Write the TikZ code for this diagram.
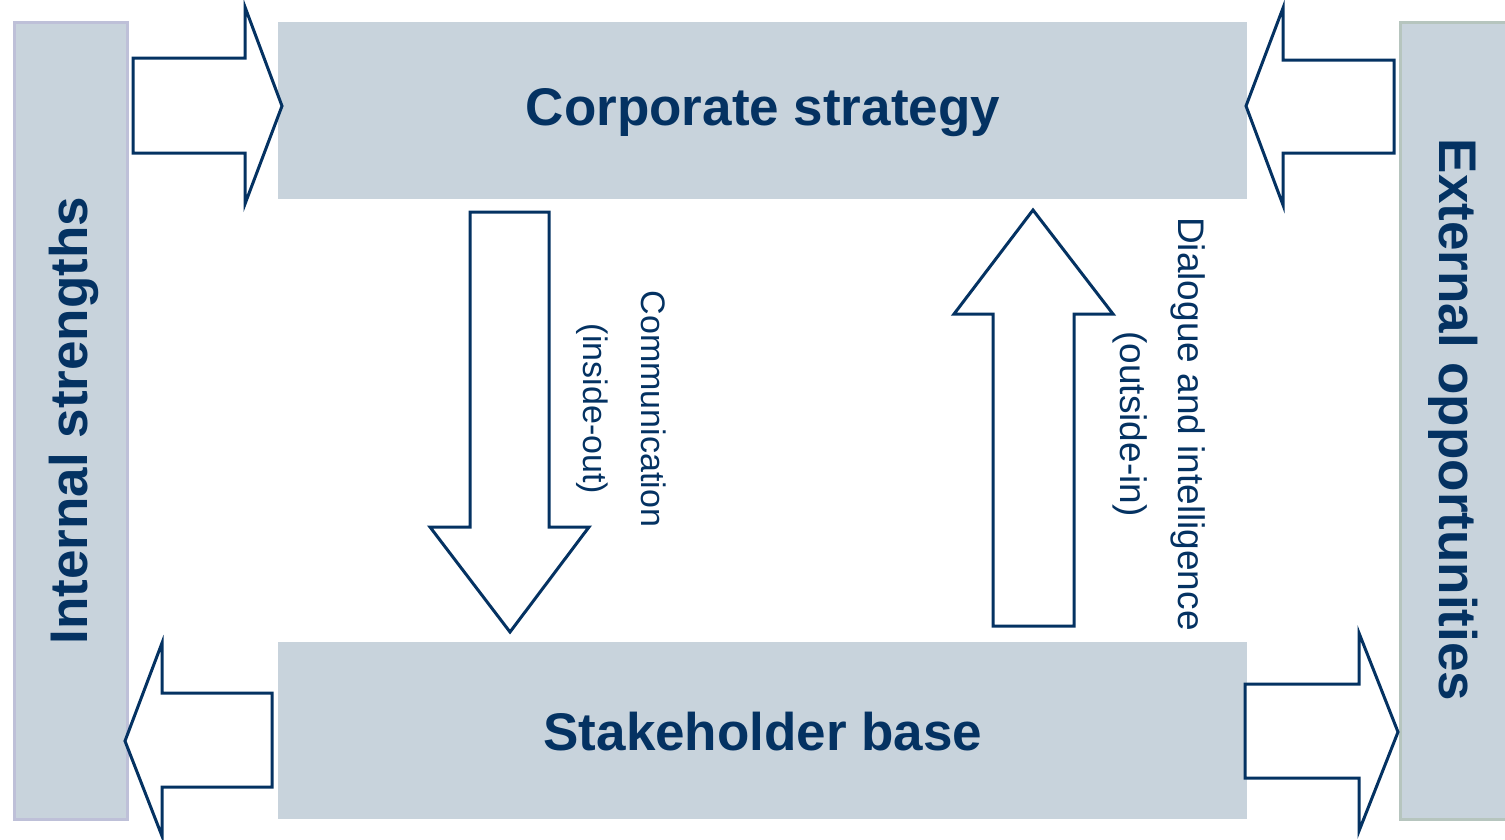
\documentclass[tikz,border=0pt]{standalone}
\usepackage{fontspec}
\setmainfont{Liberation Sans}
\usepackage{xcolor}
\usepackage{tikz}

\definecolor{navy}{RGB}{4,50,98}
\definecolor{boxfill}{RGB}{200,211,220}
\definecolor{leftedge}{RGB}{190,192,216}
\definecolor{rightedge}{RGB}{182,197,190}

\tikzset{
  box/.style={fill=boxfill, inner sep=0pt, text=navy,
    font=\fontsize{53}{60}\selectfont\bfseries},
  bar/.style={box, line width=3pt},
  blockarrow/.style={draw=navy, fill=white, line width=3pt, line join=miter},
  note/.style={text=navy, align=center, inner sep=0pt,
    font=\fontsize{34}{58}\selectfont}
}

\begin{document}
\begin{tikzpicture}[x=1pt, y=-1pt]
    \useasboundingbox (0,0) rectangle (1505,839);
    \clip (0,0) rectangle (1505,839);

    % side bars and boxes
    \node[bar, draw=leftedge, minimum width=113pt, minimum height=797pt] (inner) at (70.5,420.5) {};
    \node[bar, draw=rightedge, minimum width=113pt, minimum height=797pt, anchor=west] (outer) at (1399,420.5) {};
    \node[box, minimum width=969pt, minimum height=177pt] (strategy) at (762.5,110.5) {};
    \node[box, minimum width=969pt, minimum height=177pt] (base) at (762.5,730.5) {};
    \node[text=navy, font=\fontsize{53}{60}\selectfont\bfseries] (strategylabel) at (763,113) {Corporate strategy};
    \node[text=navy, font=\fontsize{53}{60}\selectfont\bfseries] (baselabel) at (763,732) {Stakeholder base};

    \node[text=navy, rotate=90, font=\fontsize{53}{60}\selectfont\bfseries] (innerlabel) at (74,420.5) {Internal strengths};
    \node[text=navy, rotate=-90, font=\fontsize{53}{60}\selectfont\bfseries] (outerlabel) at (1453,420) {External opportunities};

    % block arrows
    \draw[blockarrow] (133,58) -- (245,58) -- (245,7) -- (282,106) -- (245,204) -- (245,153) -- (133,153) -- cycle;
    \draw[blockarrow] (1394,60) -- (1283,60) -- (1283,8) -- (1246,106) -- (1283,205) -- (1283,153) -- (1394,153) -- cycle;
    \draw[blockarrow] (272,693) -- (162,693) -- (162,643) -- (125,741) -- (162,836) -- (162,787) -- (272,787) -- cycle;
    \draw[blockarrow] (1245,684) -- (1359,684) -- (1359,633) -- (1398,732) -- (1359,831) -- (1359,778) -- (1245,778) -- cycle;
    \draw[blockarrow] (470,212) -- (549,212) -- (549,527) -- (589,527) -- (510,632) -- (430,527) -- (470,527) -- cycle;
    \draw[blockarrow] (993,626) -- (1074,626) -- (1074,314) -- (1113,314) -- (1033,210) -- (954,314) -- (993,314) -- cycle;

    \node[note, rotate=-90] (down) at (621,409) {Communication\\(inside-out)};
    \node[note, rotate=-90, font=\fontsize{37}{58}\selectfont] (up) at (1159,424) {Dialogue and intelligence\\(outside-in)};
\end{tikzpicture}
\end{document}
